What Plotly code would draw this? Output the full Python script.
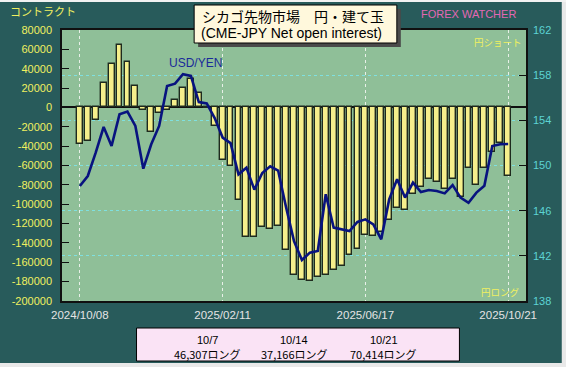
import plotly.graph_objects as go

# ---------------- data ----------------
weeks = list(range(55))
net_positions = [
    -37500, -34700, -12700, 25200, 44800, 64100, 47200, 22400, -2500, -25700,
    -6100, -2400, 8000, 19700, 29000, 14500, -1000, -19200, -54300, -60800,
    -96000, -133900, -133900, -123500, -125800, -122300, -146900, -172700, -178300, -179300,
    -175000, -172800, -168000, -163600, -152500, -145800, -131300, -132800, -128400, -116600,
    -103900, -106100, -89500, -81900, -74300, -77400, -84600, -74000, -92300, -62300,
    -80200, -62300, -46307, -37166, -70414,
]
usd_jpy = [
    148.18, 149.07, 151.14, 153.41, 151.73, 154.53, 154.77, 153.50, 149.72, 151.88,
    153.50, 157.04, 157.25, 158.08, 157.93, 155.62, 155.50, 154.20, 152.47, 151.98,
    149.22, 149.81, 147.86, 149.34, 149.93, 149.55, 146.30, 143.30, 141.63, 142.28,
    142.43, 147.45, 144.50, 144.35, 144.20, 145.00, 145.23, 144.79, 143.46, 147.00,
    148.78, 147.16, 148.48, 147.65, 147.83, 147.74, 147.53, 148.27, 147.16, 146.70,
    147.60, 148.20, 151.73, 151.88, 151.90,
]
tick_weeks = [0, 18, 36, 54]
tick_dates = ["2024/10/08", "2025/02/11", "2025/06/17", "2025/10/21"]
left_ticks = list(range(-200000, 80001, 20000))
right_ticks = [138, 142, 146, 150, 154, 158, 162]
table_dates = ["10/7", "10/14", "10/21"]
table_values = ["46,307ロング", "37,166ロング", "70,414ロング"]

# ---------------- layout helpers ----------------
W, H = 566, 367
L, R, T, B = 59, 526, 30, 301


def px(x):
    return (x - L) / (R - L)


def py(y):
    return (B - y) / (B - T)


PANEL = "#285B5B"
PLOTBG = "#8FBF98"
YELLOW = "#F0F060"
CYAN = "#5CD3D3"
NAVY = "#08137F"

fig = go.Figure()
fig.add_trace(go.Bar(
    x=weeks, y=net_positions, width=0.74,
    marker=dict(color="#F5EF8C", line=dict(color="#1E2A1E", width=1.4)),
    yaxis="y", showlegend=False, hoverinfo="skip",
))
fig.add_trace(go.Scatter(
    x=weeks, y=usd_jpy, mode="lines",
    line=dict(color=NAVY, width=2.6),
    yaxis="y2", showlegend=False, hoverinfo="skip",
))

fig.update_layout(
    width=W, height=H,
    margin=dict(l=L, r=W - R, t=T, b=H - B),
    paper_bgcolor=PANEL,
    plot_bgcolor=PLOTBG,
    bargap=0,
    xaxis=dict(
        range=[-2.25, 56.25],
        tickmode="array", tickvals=tick_weeks, ticktext=tick_dates,
        showgrid=True, gridcolor="#E8F0E8", griddash="dot", gridwidth=1,
        ticks="", zeroline=False,
        showline=True, linecolor="#101010", linewidth=1.5, mirror=True,
        ticklabelstandoff=2,
        tickfont=dict(family="Liberation Sans", size=11.5, color="#E4E4E4"),
    ),
    yaxis=dict(
        range=[-200000, 80000],
        tickmode="array", tickvals=left_ticks,
        ticktext=[str(v) for v in left_ticks],
        showgrid=False,
        zeroline=True, zerolinecolor="#101010", zerolinewidth=1.5,
        ticks="inside", ticklen=7, tickcolor="#101010", tickwidth=1,
        showline=True, linecolor="#101010", linewidth=1.5, mirror=True,
        ticklabelstandoff=6,
        tickfont=dict(family="Liberation Sans", size=11, color=YELLOW),
    ),
    yaxis2=dict(
        range=[138, 162], overlaying="y", side="right",
        tickmode="array", tickvals=right_ticks,
        showgrid=True, gridcolor="#7FE0E0", griddash="dot", gridwidth=1,
        zeroline=False,
        ticks="inside", ticklen=7, tickcolor="#101010", tickwidth=1,
        ticklabelstandoff=6,
        tickfont=dict(family="Liberation Sans", size=11, color=CYAN),
    ),
)

shapes = [
    # light page strips around the dark panel
    dict(type="rect", xref="paper", yref="paper", layer="above",
         x0=px(562), x1=px(575), y0=py(380), y1=py(-10),
         fillcolor="#E9E9E9", line=dict(width=0)),
    dict(type="rect", xref="paper", yref="paper", layer="above",
         x0=px(-10), x1=px(575), y0=py(380), y1=py(363),
         fillcolor="#E9E9E9", line=dict(width=0)),
    dict(type="rect", xref="paper", yref="paper", layer="above",
         x0=px(-10), x1=px(575), y0=py(2), y1=py(-10),
         fillcolor="#F2F2F2", line=dict(width=0)),
    # title box shadow + box
    dict(type="rect", xref="paper", yref="paper", layer="above",
         x0=px(196), x1=px(400), y0=py(47), y1=py(9),
         fillcolor="#4A4A4A", line=dict(width=0)),
    dict(type="rect", xref="paper", yref="paper", layer="above",
         x0=px(192), x1=px(396), y0=py(43), y1=py(5),
         fillcolor="#FFF8DC", line=dict(color="#000000", width=1)),
    # table box
    dict(type="rect", xref="paper", yref="paper", layer="above",
         x0=px(134), x1=px(459), y0=py(361), y1=py(328),
         fillcolor="#FAE3F5", line=dict(color="#000000", width=1)),
]
fig.update_layout(shapes=shapes)

JP = "Noto Sans CJK JP"
ann = []


def add_text(x, y, text, size, color, family=JP, xanchor="center"):
    ann.append(dict(
        xref="paper", yref="paper", x=px(x), y=py(y), text=text,
        showarrow=False, xanchor=xanchor, yanchor="middle",
        font=dict(family=family, size=size, color=color),
    ))


add_text(5, 11, "コントラクト", 11, YELLOW, xanchor="left")
add_text(198, 16, "シカゴ先物市場　円・建て玉", 14, "#000000", xanchor="left")
add_text(197, 33, "(CME-JPY Net open interest)", 14, "#000000",
         family="Liberation Sans", xanchor="left")
add_text(418, 14, "FOREX WATCHER", 11, "#E468B4", family="Liberation Sans", xanchor="left")
add_text(472, 42, "円ショート", 9.5, YELLOW, xanchor="left")
add_text(479, 292, "円ロング", 9.5, YELLOW, xanchor="left")
add_text(165, 63, "USD/YEN", 12, "#1A2A9A", family="Liberation Sans", xanchor="left")

row_centers = [205, 293, 383]
for cx, d, v in zip(row_centers, table_dates, table_values):
    add_text(cx, 340, d, 11, "#000000", family="Liberation Sans")
    add_text(cx, 354, v, 11, "#000000")

fig.update_layout(annotations=ann)

fig.write_html("out.html")
